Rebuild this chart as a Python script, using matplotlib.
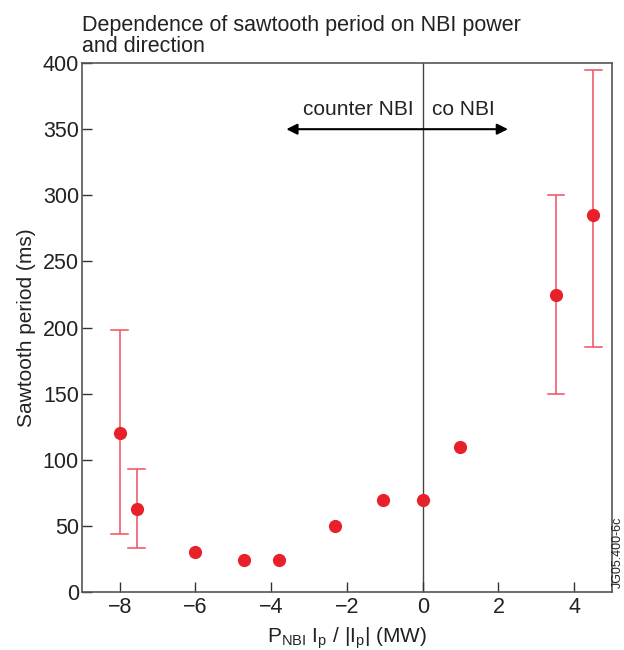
import matplotlib
matplotlib.use("Agg")
import matplotlib.pyplot as plt

plt.rcParams["font.family"] = ["Liberation Sans", "DejaVu Sans"]
plt.rcParams["text.color"] = "#222222"
plt.rcParams["axes.labelcolor"] = "#222222"
plt.rcParams["xtick.labelcolor"] = "#222222"
plt.rcParams["ytick.labelcolor"] = "#222222"

# data
power = [-8.0, -7.55, -6.0, -4.72, -3.8, -2.32, -1.04, 0.0, 0.98, 3.52, 4.5]
period = [120, 63, 30, 24, 24, 50, 70, 70, 110, 225, 285]
err_x = [-8.0, -7.55, 3.52, 4.5]
err_lo = [44, 33, 150, 185]
err_hi = [198, 93, 300, 395]

fig = plt.figure(figsize=(6.24, 6.5), dpi=100)
ax = fig.add_axes([0.131, 0.089, 0.85, 0.814])

ax.vlines(err_x, err_lo, err_hi, color="#f05060", lw=1.1, zorder=2)
for x, lo, hi in zip(err_x, err_lo, err_hi):
    ax.plot([x - 0.22, x + 0.22], [lo, lo], color="#f05060", lw=1.1, zorder=2)
    ax.plot([x - 0.22, x + 0.22], [hi, hi], color="#f05060", lw=1.1, zorder=2)

ax.plot(power, period, "o", color="#e8202a", ms=9.5, mec="none", zorder=3)

ax.axvline(0, color="#444444", lw=1.0, zorder=1)
ax.annotate("", xy=(-3.6, 350), xytext=(2.25, 350),
            arrowprops=dict(arrowstyle="<|-|>", color="black", lw=1.5,
                            mutation_scale=16, shrinkA=0, shrinkB=0))
ax.text(-0.25, 358, "counter NBI", ha="right", va="bottom", fontsize=15)
ax.text(0.25, 358, "co NBI", ha="left", va="bottom", fontsize=15)

ax.set_xlim(-9, 5)
ax.set_ylim(0, 400)
ax.set_xticks([-8, -6, -4, -2, 0, 2, 4])
ax.set_xticklabels(["\u22128", "\u22126", "\u22124", "\u22122", "0", "2", "4"])
ax.set_yticks(range(0, 401, 50))
ax.tick_params(direction="in", length=7, width=1.0, labelsize=15.5, color="#333333")
ax.tick_params(axis="y", pad=2)
for s in ax.spines.values():
    s.set_color("#555555")
    s.set_linewidth(1.2)

ax.set_ylabel("Sawtooth period (ms)", fontsize=15, labelpad=5)
ax.set_xlabel(r"P$_\mathregular{NBI}$ I$_\mathregular{p}$ / |I$_\mathregular{p}$| (MW)",
              fontsize=15, labelpad=5)

fig.text(0.131, 0.913, "Dependence of sawtooth period on NBI power\nand direction",
         fontsize=15.5, ha="left", va="bottom", linespacing=1.0)
fig.text(0.999, 0.095, "JG05.400-6c", rotation=90, fontsize=9, ha="right", va="bottom")

fig.savefig("out.png", dpi=100)
